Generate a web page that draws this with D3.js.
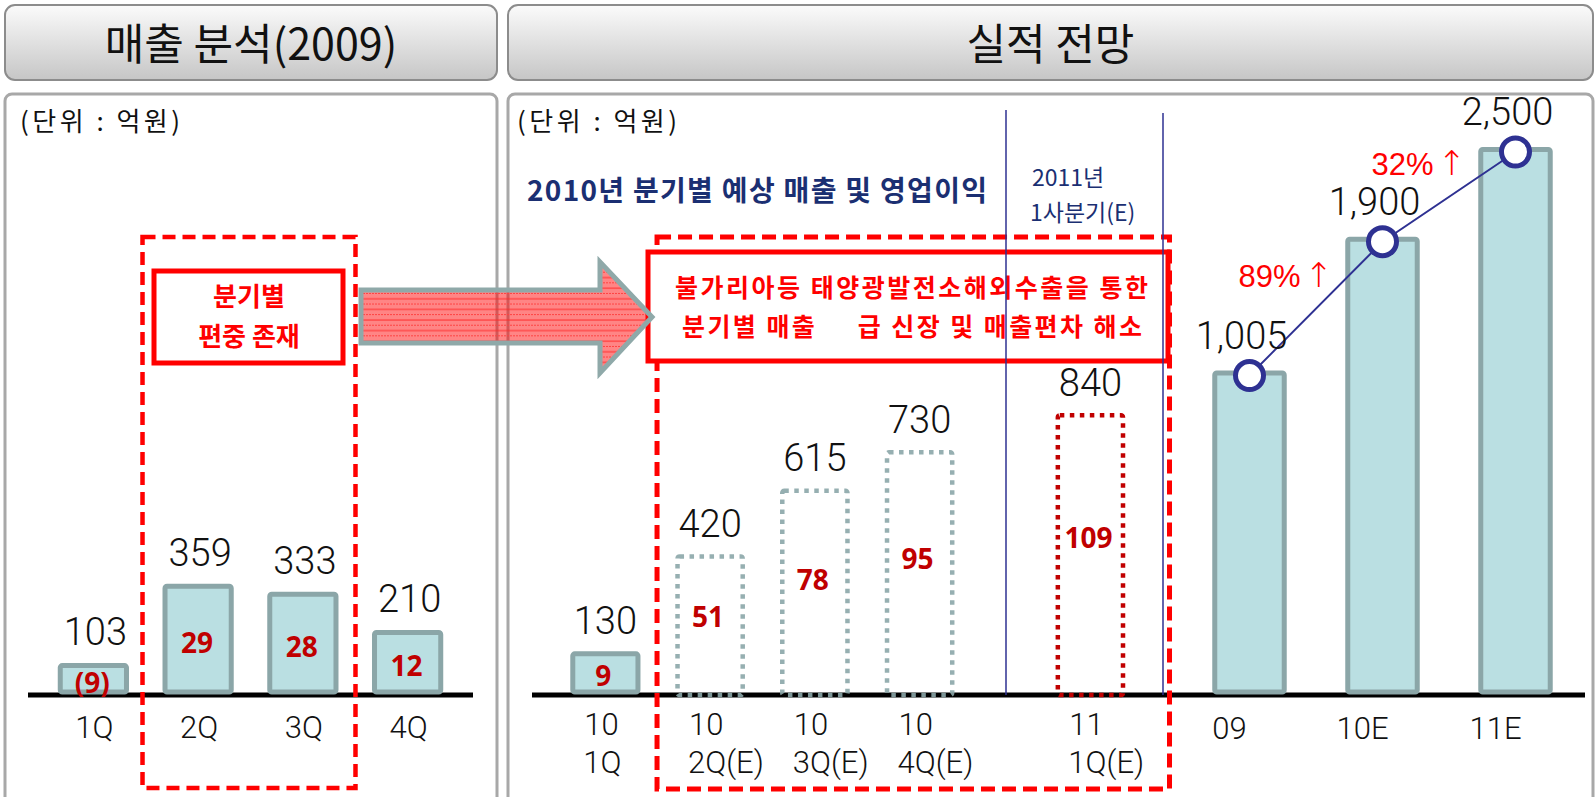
<!DOCTYPE html>
<html>
<head>
<meta charset="utf-8">
<script src="https://cdn.jsdelivr.net/npm/d3@7"></script>
<style>
  body { margin: 0; background: #fff; }
  svg { display: block; }
</style>
</head>
<body>
<svg id="chart" width="1596" height="797"></svg>
<script>
// 2009 quarterly sales / operating profit (억원)
const q09Cats = ["1Q", "2Q", "3Q", "4Q"];
const q09Sales = [103, 359, 333, 210];
const q09Profit = [-9, 29, 28, 12];

// 2010 quarterly (E = estimate)
const q10Year = "10";
const q10Cats = ["1Q", "2Q(E)", "3Q(E)", "4Q(E)"];
const q10Sales = [130, 420, 615, 730];
const q10Profit = [9, 51, 78, 95];
const q10Estimate = [false, true, true, true];

// 2011 first quarter
const q11Year = "11";
const q11Cats = ["1Q(E)"];
const q11Sales = [840];
const q11Profit = [109];

// yearly sales
const yearCats = ["09", "10E", "11E"];
const yearSales = [1005, 1900, 2500];
const growthLabels = ["89%↑", "32%↑"];

const KR = "'Noto Sans CJK KR', 'Noto Sans', sans-serif";
const NUM = "Roboto, 'Liberation Sans', Arial, sans-serif";
const NUMW = 300;
const BOLD = "'Noto Sans', 'Liberation Sans', sans-serif";
const barFill = "#badfe2", barStroke = "#8ba6a8";
const red = "#ff0000", darkRed = "#c00000", navy = "#2e3192";
const base = 695;
const fmt = d3.format(",");
const profitFmt = (d) => (d < 0 ? `(${-d})` : `${d}`);

const svg = d3.select("#chart");
const defs = svg.append("defs");

// header gradient
const grad = defs.append("linearGradient").attr("id", "hdr")
  .attr("x1", 0).attr("y1", 0).attr("x2", 0).attr("y2", 1);
grad.append("stop").attr("offset", "0%").attr("stop-color", "#fbfbfb");
grad.append("stop").attr("offset", "100%").attr("stop-color", "#c6c6c6");

// arrow stripes
const pat = defs.append("pattern").attr("id", "stripes")
  .attr("patternUnits", "userSpaceOnUse").attr("width", 12).attr("height", 10.6);
pat.append("rect").attr("width", 12).attr("height", 10.6).attr("fill", "rgba(255,0,0,0.48)");
pat.append("line").attr("x1", 0).attr("x2", 12).attr("y1", 2).attr("y2", 2)
  .attr("stroke", "#ff2a2a").attr("stroke-width", 1);
pat.append("line").attr("x1", 0).attr("x2", 12).attr("y1", 7.3).attr("y2", 7.3)
  .attr("stroke", "#ff4040").attr("stroke-width", 1).attr("stroke-dasharray", "2,1");

// headers and panels
const headers = [
  { x: 5, w: 492, text: "매출 분석(2009)" },
  { x: 508, w: 1085, text: "실적 전망" },
];
headers.forEach((h) => {
  svg.append("rect").attr("x", h.x).attr("y", 5).attr("width", h.w).attr("height", 75)
    .attr("rx", 10).attr("fill", "url(#hdr)").attr("stroke", "#8c8c8c").attr("stroke-width", 2);
  svg.append("text").attr("x", h.x + h.w / 2).attr("y", 60).attr("text-anchor", "middle")
    .attr("font-family", KR).attr("font-size", 43).attr("fill", "#111").text(h.text);
  svg.append("rect").attr("x", h.x).attr("y", 94).attr("width", h.w).attr("height", 730)
    .attr("rx", 7).attr("fill", "#fff").attr("stroke", "#a8a8a8").attr("stroke-width", 3);
});

// unit labels
[20, 517].forEach((x) => {
  svg.append("text").attr("x", x).attr("y", 131).attr("font-family", KR)
    .attr("font-size", 26).attr("fill", "#111")
    .attr("textLength", 160).attr("lengthAdjust", "spacing")
    .text("(단위\u00a0:\u00a0억원)");
});

// ---------- left: 2009 quarterly ----------
const xL = d3.scaleBand().domain(q09Cats).range([41, 460]).paddingInner(0.32).paddingOuter(0.16);
const yL = d3.scaleLinear().domain([0, 400]).range([base, base - 124]);

svg.append("line").attr("x1", 28).attr("x2", 473).attr("y1", base).attr("y2", base)
  .attr("stroke", "#000").attr("stroke-width", 5);

const left = svg.append("g");
const q09 = q09Cats.map((c, i) => ({ cat: c, sales: q09Sales[i], profit: q09Profit[i] }));
left.selectAll("rect.bar").data(q09).join("rect").attr("class", "bar")
  .attr("x", (d) => xL(d.cat) + 2.5).attr("width", xL.bandwidth() - 5)
  .attr("y", (d) => yL(d.sales) + 2.5).attr("height", (d) => base - 3 - yL(d.sales) - 2.5)
  .attr("rx", 2).attr("fill", barFill).attr("stroke", barStroke).attr("stroke-width", 5);
left.selectAll("text.val").data(q09).join("text").attr("class", "val")
  .attr("x", (d) => xL(d.cat) + xL.bandwidth() / 2 + 2).attr("y", (d) => yL(d.sales) - 18)
  .attr("text-anchor", "middle").attr("font-family", NUM).attr("font-weight", NUMW)
  .attr("font-size", 38).attr("fill", "#111").text((d) => fmt(d.sales));
left.selectAll("text.prof").data(q09).join("text").attr("class", "prof")
  .attr("x", (d) => xL(d.cat) + xL.bandwidth() / 2 - 1)
  .attr("y", (d) => (yL(d.sales) + base) / 2 + 3)
  .attr("dominant-baseline", "central").attr("text-anchor", "middle")
  .attr("font-family", BOLD).attr("font-weight", 700).attr("font-size", 28)
  .attr("fill", darkRed).text((d) => profitFmt(d.profit));
left.selectAll("text.cat").data(q09).join("text").attr("class", "cat")
  .attr("x", (d) => xL(d.cat) + xL.bandwidth() / 2 + 1).attr("y", 738)
  .attr("text-anchor", "middle").attr("font-family", NUM).attr("font-weight", NUMW)
  .attr("font-size", 31).attr("fill", "#111").text((d) => d.cat);

// dashed highlight around 2Q-3Q
const lx0 = xL("2Q") - 20, lx1 = xL("3Q") + xL.bandwidth() + 17;
svg.append("rect").attr("x", lx0).attr("y", 237).attr("width", lx1 - lx0).attr("height", 551)
  .attr("fill", "none").attr("stroke", red).attr("stroke-width", 4.5).attr("stroke-dasharray", "13,7");
svg.append("rect").attr("x", 154).attr("y", 271).attr("width", 189).attr("height", 92)
  .attr("fill", "#fff").attr("stroke", red).attr("stroke-width", 5);
[["분기별", 306], ["편중 존재", 346]].forEach(([t, y]) => {
  svg.append("text").attr("x", 249).attr("y", y).attr("text-anchor", "middle")
    .attr("font-family", KR).attr("font-weight", 700).attr("font-size", 26)
    .attr("fill", red).text(t);
});

// ---------- right: quarterly ----------
const xQ = d3.scaleBand().domain(q10Cats).range([553, 972]).paddingInner(0.33).paddingOuter(0.165);
const xN = d3.scaleBand().domain(q11Cats).range([1038, 1143]).paddingInner(0.33).paddingOuter(0.165);
const yQ = d3.scaleLinear().domain([0, 1000]).range([base, base - 336]);
const xY = d3.scaleBand().domain(yearCats).range([1183, 1582]).paddingInner(0.44).paddingOuter(0.22);
const yY = d3.scaleLinear().domain([-1165, 2500]).range([base, 147]);

svg.append("line").attr("x1", 532).attr("x2", 1585).attr("y1", base).attr("y2", base)
  .attr("stroke", "#000").attr("stroke-width", 5);

const q10 = q10Cats.map((c, i) => ({
  year: q10Year, cat: c, sales: q10Sales[i], profit: q10Profit[i], est: q10Estimate[i], x: xQ, col: barStroke,
}));
const q11 = q11Cats.map((c, i) => ({
  year: q11Year, cat: c, sales: q11Sales[i], profit: q11Profit[i], est: true, x: xN, col: darkRed,
}));
const quarters = q10.concat(q11);
const bw = xQ.bandwidth();

const right = svg.append("g");
right.selectAll("rect.q").data(quarters).join("rect").attr("class", "q")
  .attr("x", (d) => d.x(d.cat) + 2.5).attr("width", bw - 5)
  .attr("y", (d) => yQ(d.sales) + 2.5)
  .attr("height", (d) => base - (d.est ? 0 : 3) - yQ(d.sales) - 2.5)
  .attr("rx", 2)
  .attr("fill", (d) => (d.est ? "none" : barFill))
  .attr("stroke", (d) => d.col).attr("stroke-width", (d) => (d.est ? 4.5 : 5))
  .attr("stroke-dasharray", (d) => (d.est ? "4.5,5.5" : null))
  .attr("opacity", (d) => (d.est && d.col === barStroke ? 0.9 : 1));
right.selectAll("text.val").data(quarters).join("text").attr("class", "val")
  .attr("x", (d) => d.x(d.cat) + bw / 2).attr("y", (d) => yQ(d.sales) - 17)
  .attr("text-anchor", "middle").attr("font-family", NUM).attr("font-weight", NUMW)
  .attr("font-size", 38).attr("fill", "#111").text((d) => fmt(d.sales));
right.selectAll("text.prof").data(quarters).join("text").attr("class", "prof")
  .attr("x", (d) => d.x(d.cat) + bw / 2 - 2)
  .attr("y", (d) => base - (base - yQ(d.sales)) * (d.est ? 0.56 : 0.5) + (d.est ? 0 : 2))
  .attr("dominant-baseline", "central").attr("text-anchor", "middle")
  .attr("font-family", BOLD).attr("font-weight", 700).attr("font-size", 28)
  .attr("fill", darkRed).text((d) => profitFmt(d.profit));
const qLab = right.selectAll("text.cat").data(quarters).join("text").attr("class", "cat")
  .attr("font-family", NUM).attr("font-weight", NUMW).attr("font-size", 31).attr("fill", "#111");
qLab.append("tspan").attr("x", (d) => d.x(d.cat) + 14).attr("y", 735).text((d) => d.year);
qLab.append("tspan").attr("x", (d) => d.x(d.cat) + 13).attr("y", 773).text((d) => d.cat);

// ---------- right: yearly ----------
const years = yearCats.map((c, i) => ({ cat: c, sales: yearSales[i] }));
const yr = svg.append("g");
yr.selectAll("rect").data(years).join("rect")
  .attr("x", (d) => xY(d.cat) + 2.5).attr("width", xY.bandwidth() - 5)
  .attr("y", (d) => yY(d.sales) + 2.5).attr("height", (d) => base - 3 - yY(d.sales) - 2.5)
  .attr("rx", 2).attr("fill", barFill).attr("stroke", barStroke).attr("stroke-width", 5);
yr.selectAll("text.cat").data(years).join("text").attr("class", "cat")
  .attr("x", (d) => xY(d.cat) + xY.bandwidth() / 2 - 20).attr("y", 739)
  .attr("text-anchor", "middle").attr("font-family", NUM).attr("font-weight", NUMW)
  .attr("font-size", 31).attr("fill", "#111").text((d) => d.cat);

const pts = years.map((d) => [xY(d.cat) + xY.bandwidth() / 2, yY(d.sales) + 5]);
yr.append("path").attr("d", d3.line()(pts)).attr("fill", "none")
  .attr("stroke", navy).attr("stroke-width", 2);
yr.selectAll("circle").data(pts).join("circle")
  .attr("cx", (d) => d[0]).attr("cy", (d) => d[1]).attr("r", 14)
  .attr("fill", "#fff").attr("stroke", navy).attr("stroke-width", 5);
yr.selectAll("text.val").data(years).join("text").attr("class", "val")
  .attr("x", (d) => xY(d.cat) + xY.bandwidth() / 2 - 8).attr("y", (d) => yY(d.sales) - 22)
  .attr("text-anchor", "middle").attr("font-family", NUM).attr("font-weight", NUMW)
  .attr("font-size", 38).attr("fill", "#111").text((d) => fmt(d.sales));
const grow = yr.selectAll("text.grow").data(growthLabels).join("text").attr("class", "grow")
  .attr("x", (d, i) => (pts[i][0] + pts[i + 1][0]) / 2 + 17)
  .attr("y", (d, i) => (pts[i][1] + pts[i + 1][1]) / 2 - 22)
  .attr("text-anchor", "end").attr("font-family", "'Liberation Sans', Arial, sans-serif")
  .attr("font-size", 31).attr("fill", red);
grow.append("tspan").text((d) => d.slice(0, -1));
grow.append("tspan").attr("dx", 4).attr("font-family", "'DejaVu Sans', sans-serif")
  .attr("font-weight", 200).attr("font-size", 34).text((d) => d.slice(-1));

// ---------- annotations ----------
svg.append("text").attr("x", 527).attr("y", 201).attr("font-family", KR)
  .attr("font-weight", 700).attr("font-size", 28).attr("fill", "#1b2f72")
  .attr("textLength", 460).attr("lengthAdjust", "spacing")
  .text("2010년 분기별 예상 매출 및 영업이익");
svg.append("text").attr("x", 1032).attr("y", 186).attr("font-family", KR)
  .attr("font-size", 23).attr("fill", "#1b2f72").text("2011년");
svg.append("text").attr("x", 1030).attr("y", 221).attr("font-family", KR)
  .attr("font-size", 23).attr("fill", "#1b2f72").text("1사분기(E)");

const rx0 = xQ("2Q(E)") - 18, rx1 = xN("1Q(E)") + bw + 44;
svg.append("rect").attr("x", rx0).attr("y", 237).attr("width", rx1 - rx0).attr("height", 552)
  .attr("fill", "none").attr("stroke", red).attr("stroke-width", 5).attr("stroke-dasharray", "14,7");
svg.append("rect").attr("x", 648).attr("y", 252).attr("width", 520).attr("height", 109)
  .attr("fill", "#fff").attr("stroke", red).attr("stroke-width", 5);
svg.append("text").attr("x", 675).attr("y", 297).attr("font-family", KR)
  .attr("font-weight", 700).attr("font-size", 25).attr("fill", red)
  .attr("textLength", 473).attr("lengthAdjust", "spacing")
  .text("불가리아등 태양광발전소해외수출을 통한");
svg.append("text").attr("x", 682).attr("y", 336).attr("font-family", KR)
  .attr("font-weight", 700).attr("font-size", 25).attr("fill", red)
  .attr("textLength", 460).attr("lengthAdjust", "spacing")
  .text("분기별 매출\u00a0\u00a0\u00a0\u00a0\u00a0급 신장 및 매출편차 해소");

// separators around 2011 1Q
[[1006, 110], [1163, 113]].forEach(([x, y0]) => {
  svg.append("line").attr("x1", x).attr("x2", x).attr("y1", y0).attr("y2", base)
    .attr("stroke", navy).attr("stroke-width", 1.5);
});

// arrow
svg.append("path")
  .attr("d", "M361,290 L600,290 L600,262 L652,317 L600,373 L600,343 L361,343 Z")
  .attr("fill", "url(#stripes)").attr("stroke", "#8fa9a9").attr("stroke-width", 5);
</script>
</body>
</html>
